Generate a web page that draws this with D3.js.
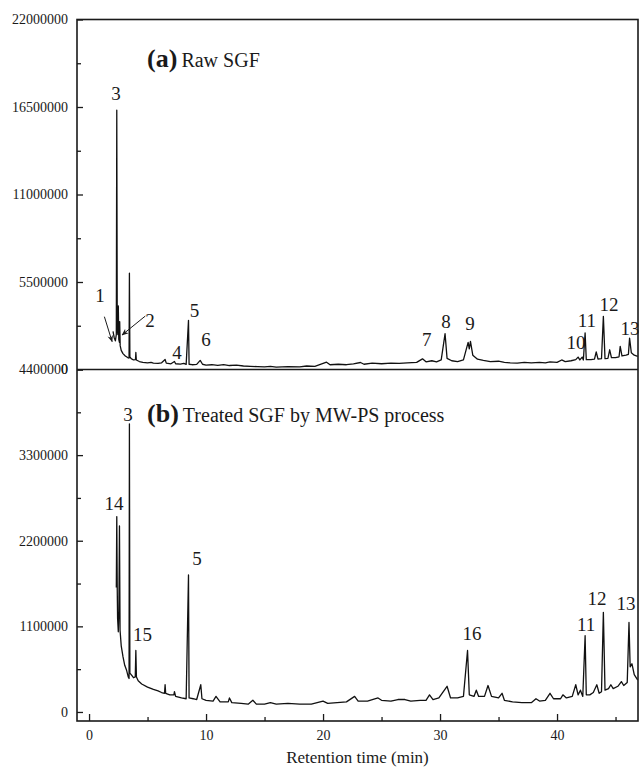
<!DOCTYPE html>
<html>
<head>
<meta charset="utf-8">
<script src="https://cdn.jsdelivr.net/npm/d3@7"></script>
<style>
  body { margin: 0; background: #fff; }
  svg { display: block; }
  text { font-family: "Liberation Serif", "Times New Roman", serif; fill: #1a1a1a; }
</style>
</head>
<body>
<svg id="chart" width="639" height="770"></svg>
<script>
// retention time (min), abundance (millions)
const rawSGF = [
  [2.05, 2.4], [2.15, 2.0], [2.25, 1.8], [2.33, 2.2], [2.37, 16.3], [2.41, 2.6], [2.46, 2.2],
  [2.5, 4.0], [2.54, 1.9], [2.6, 1.7], [2.62, 3.0], [2.66, 1.5], [2.75, 1.2], [2.9, 1.0],
  [3.1, 0.85], [3.3, 0.75], [3.42, 0.72], [3.45, 6.05], [3.49, 0.8], [3.6, 0.68], [3.8, 0.6],
  [3.97, 0.62], [4.0, 1.07], [4.04, 0.6], [4.3, 0.5], [4.6, 0.45], [5.0, 0.42], [5.3, 0.45],
  [5.5, 0.4], [5.9, 0.38], [6.2, 0.42], [6.5, 0.63], [6.6, 0.4], [7.0, 0.36], [7.3, 0.5],
  [7.4, 0.36], [7.8, 0.34], [8.1, 0.38], [8.3, 0.32], [8.5, 3.09], [8.55, 0.33], [8.8, 0.3],
  [9.2, 0.32], [9.5, 0.57], [9.7, 0.33], [10.0, 0.28], [10.5, 0.3], [11.0, 0.26], [11.5, 0.3],
  [12.0, 0.25], [12.6, 0.27], [13.2, 0.22], [13.8, 0.2], [14.4, 0.18], [15.0, 0.16], [15.5, 0.2],
  [16.0, 0.15], [17.0, 0.18], [18.0, 0.16], [18.6, 0.22], [19.3, 0.2], [20.3, 0.46], [20.6, 0.3],
  [21.3, 0.33], [22.0, 0.3], [22.6, 0.36], [23.2, 0.44], [23.5, 0.33], [24.2, 0.4], [25.0, 0.36],
  [25.8, 0.4], [26.5, 0.38], [27.2, 0.42], [28.0, 0.45], [28.5, 0.67], [28.8, 0.48], [29.3, 0.55],
  [29.7, 0.48], [30.1, 0.6], [30.43, 2.25], [30.6, 0.7], [31.0, 0.55], [31.5, 0.5], [32.0, 0.6],
  [32.4, 1.7], [32.5, 1.3], [32.6, 1.77], [32.8, 0.9], [33.2, 0.65], [33.7, 0.57], [34.3, 0.5],
  [35.0, 0.52], [35.5, 0.45], [36.0, 0.42], [36.6, 0.4], [37.2, 0.45], [37.8, 0.42], [38.5, 0.45],
  [39.0, 0.42], [39.4, 0.48], [40.0, 0.45], [40.4, 0.6], [40.7, 0.5], [41.2, 0.55], [41.6, 0.62],
  [41.8, 0.78], [41.95, 0.6], [42.15, 0.78], [42.25, 0.6], [42.4, 2.3], [42.5, 0.62], [42.9, 0.62],
  [43.2, 0.65], [43.35, 1.1], [43.5, 0.66], [43.8, 0.68], [43.96, 3.34], [44.1, 0.68], [44.35, 0.7],
  [44.5, 1.24], [44.65, 0.75], [45.0, 0.75], [45.3, 0.8], [45.4, 1.45], [45.55, 0.85], [45.9, 0.9],
  [46.1, 0.95], [46.2, 1.97], [46.35, 1.05], [46.6, 0.9], [46.9, 0.82]
];

const treatedSGF = [
  [2.33, 1.6], [2.37, 2.51], [2.41, 1.57], [2.44, 1.2], [2.5, 1.03], [2.55, 1.3], [2.6, 2.39],
  [2.65, 1.05], [2.75, 0.85], [2.9, 0.71], [3.05, 0.6], [3.2, 0.54], [3.35, 0.45], [3.42, 0.43],
  [3.45, 3.7], [3.49, 0.5], [3.6, 0.48], [3.8, 0.44], [3.95, 0.45], [4.0, 0.79], [4.05, 0.45],
  [4.2, 0.4], [4.5, 0.36], [5.0, 0.32], [5.5, 0.29], [5.9, 0.27], [6.2, 0.25], [6.45, 0.24],
  [6.5, 0.35], [6.55, 0.24], [6.9, 0.22], [7.25, 0.22], [7.3, 0.26], [7.4, 0.2], [7.9, 0.18],
  [8.3, 0.17], [8.5, 1.76], [8.55, 0.18], [8.9, 0.17], [9.2, 0.16], [9.55, 0.35], [9.65, 0.17],
  [10.0, 0.15], [10.6, 0.14], [10.85, 0.2], [11.2, 0.13], [11.9, 0.13], [12.0, 0.18], [12.2, 0.12],
  [13.0, 0.11], [13.6, 0.1], [14.0, 0.15], [14.3, 0.1], [15.0, 0.1], [15.5, 0.12], [16.0, 0.1],
  [17.0, 0.11], [18.0, 0.1], [19.0, 0.1], [20.0, 0.14], [20.4, 0.11], [21.2, 0.12], [22.0, 0.13],
  [22.7, 0.2], [23.0, 0.14], [23.8, 0.14], [24.7, 0.18], [25.0, 0.15], [25.8, 0.14], [26.4, 0.16],
  [27.0, 0.16], [27.5, 0.14], [28.3, 0.15], [28.8, 0.15], [29.1, 0.22], [29.4, 0.16], [29.9, 0.18],
  [30.6, 0.33], [30.9, 0.18], [31.5, 0.18], [32.0, 0.2], [32.35, 0.79], [32.5, 0.22], [32.9, 0.2],
  [33.1, 0.28], [33.3, 0.2], [33.8, 0.2], [34.1, 0.34], [34.4, 0.2], [35.0, 0.18], [35.3, 0.24],
  [35.5, 0.15], [36.2, 0.13], [37.0, 0.12], [37.8, 0.12], [38.2, 0.17], [38.5, 0.14], [39.0, 0.15],
  [39.4, 0.24], [39.7, 0.17], [40.3, 0.17], [40.5, 0.22], [40.8, 0.18], [41.3, 0.2], [41.6, 0.35],
  [41.8, 0.22], [42.0, 0.28], [42.2, 0.2], [42.4, 0.98], [42.5, 0.22], [42.8, 0.22], [43.1, 0.25],
  [43.4, 0.35], [43.6, 0.24], [43.8, 0.26], [43.96, 1.28], [44.1, 0.28], [44.4, 0.3], [44.6, 0.35],
  [44.8, 0.3], [45.2, 0.33], [45.5, 0.39], [45.7, 0.34], [46.0, 0.38], [46.15, 1.15], [46.25, 0.58],
  [46.4, 0.62], [46.6, 0.48], [46.9, 0.41]
];

const timeTicks = [0, 10, 20, 30, 40];
const timeMinor = [5, 15, 25, 35, 45];
const rawTicks = [0, 5500000, 11000000, 16500000, 22000000];
const rawMinor = [2750000, 8250000, 13750000, 19250000];
const treatedTicks = [0, 1100000, 2200000, 3300000, 4400000];
const treatedMinor = [550000, 1650000, 2750000, 3850000];

// peak numbers: [label, time, abundance (millions)]
const rawLabels = [
  ["3", 2.31, 16.94], ["1", 0.94, 4.24], ["2", 5.21, 2.67], ["4", 7.52, 0.66],
  ["5", 9.02, 3.3], ["6", 10.0, 1.48], ["7", 28.86, 1.48], ["8", 30.51, 2.61],
  ["9", 32.56, 2.48], ["10", 41.62, 1.29], ["11", 42.56, 2.67], ["12", 44.44, 3.68],
  ["13", 46.24, 2.17]
];
const treatedLabels = [
  ["3", 3.33, 3.74], ["14", 2.14, 2.6], ["15", 4.57, 0.91], ["5", 9.23, 1.89],
  ["16", 32.74, 0.92], ["11", 42.48, 1.04], ["12", 43.42, 1.37], ["13", 45.9, 1.31]
];
// arrows: [fromTime, fromValue, toTime, toValue]
const rawArrows = [
  [1.31, 3.32, 1.97, 1.75],
  [4.81, 3.36, 2.82, 2.17]
];

const panelTitles = [
  { tag: "(a)", text: "Raw SGF", t: 4.96, v: 19.01, panel: "raw" },
  { tag: "(b)", text: "Treated SGF by MW-PS process", t: 4.96, v: 3.73, panel: "treated" }
];

const unit = 1e6;
const plot = { left: 77, right: 638, top: 19.5, split: 369.5, bottom: 721 };

const svg = d3.select("#chart");

const xScale = d3.scaleLinear().domain([-1.03, 46.92]).range([plot.left, plot.right]);
const yRaw = d3.scaleLinear().domain([0, 22000000]).range([plot.split, plot.top]);
const yTreated = d3.scaleLinear().domain([-116000, 4400000]).range([plot.bottom, plot.split]);

const defs = svg.append("defs");
defs.append("clipPath").attr("id", "clipRaw")
  .append("rect").attr("x", plot.left).attr("y", plot.top)
  .attr("width", plot.right - plot.left).attr("height", plot.split - plot.top);
defs.append("clipPath").attr("id", "clipTreated")
  .append("rect").attr("x", plot.left).attr("y", plot.split)
  .attr("width", plot.right - plot.left).attr("height", plot.bottom - plot.split);
defs.append("marker")
  .attr("id", "arrowHead")
  .attr("viewBox", "0 0 10 10")
  .attr("refX", 9).attr("refY", 5)
  .attr("markerWidth", 7).attr("markerHeight", 7)
  .attr("orient", "auto")
  .append("path")
  .attr("d", "M0,1 L10,5 L0,9 L3,5 Z")
  .attr("fill", "#1a1a1a");

const fmt = d3.format("d");

function yAxes(scale, ticks, minor) {
  const g = svg.append("g").attr("transform", `translate(${plot.left},0)`);
  g.append("g")
    .call(d3.axisLeft(scale).tickValues(minor).tickSize(-4).tickFormat(""))
    .call((a) => a.select(".domain").remove());
  g.append("g")
    .call(d3.axisLeft(scale).tickValues(ticks).tickSize(-6).tickPadding(9).tickFormat(fmt))
    .call((a) => a.select(".domain").remove());
  g.selectAll("text").attr("font-size", 14).attr("fill", "#1a1a1a");
  g.selectAll("line").attr("stroke", "#1a1a1a").attr("stroke-width", 1.3);
}

yAxes(yRaw, rawTicks, rawMinor);
yAxes(yTreated, treatedTicks, treatedMinor);

const gx = svg.append("g").attr("transform", `translate(0,${plot.bottom})`);
gx.append("g")
  .call(d3.axisBottom(xScale).tickValues(timeMinor).tickSize(-4).tickFormat(""))
  .call((a) => a.select(".domain").remove());
gx.append("g")
  .call(d3.axisBottom(xScale).tickValues(timeTicks).tickSize(-7).tickPadding(9).tickFormat(fmt))
  .call((a) => a.select(".domain").remove());
gx.selectAll("text").attr("font-size", 14).attr("fill", "#1a1a1a");
gx.selectAll("line").attr("stroke", "#1a1a1a").attr("stroke-width", 1.3);
svg.selectAll("g").attr("font-family", null);

svg.append("text")
  .attr("x", (plot.left + plot.right) / 2)
  .attr("y", 763)
  .attr("text-anchor", "middle")
  .attr("font-size", 17)
  .text("Retention time (min)");

// traces
const lineRaw = d3.line().x((d) => xScale(d[0])).y((d) => yRaw(d[1] * unit));
const lineTreated = d3.line().x((d) => xScale(d[0])).y((d) => yTreated(d[1] * unit));

svg.append("path")
  .datum(rawSGF)
  .attr("clip-path", "url(#clipRaw)")
  .attr("fill", "none")
  .attr("stroke", "#111")
  .attr("stroke-width", 1.3)
  .attr("stroke-linejoin", "round")
  .attr("d", lineRaw);

svg.append("path")
  .datum(treatedSGF)
  .attr("clip-path", "url(#clipTreated)")
  .attr("fill", "none")
  .attr("stroke", "#111")
  .attr("stroke-width", 1.3)
  .attr("stroke-linejoin", "round")
  .attr("d", lineTreated);

// frame
svg.append("rect")
  .attr("x", plot.left).attr("y", plot.top)
  .attr("width", plot.right - plot.left).attr("height", plot.bottom - plot.top)
  .attr("fill", "none").attr("stroke", "#1a1a1a").attr("stroke-width", 1.6);
svg.append("line")
  .attr("x1", plot.left).attr("x2", plot.right)
  .attr("y1", plot.split).attr("y2", plot.split)
  .attr("stroke", "#1a1a1a").attr("stroke-width", 1.6);

// peak labels
function peakLabels(labels, scale) {
  svg.append("g")
    .selectAll("text")
    .data(labels)
    .join("text")
    .attr("x", (d) => xScale(d[1]))
    .attr("y", (d) => scale(d[2] * unit))
    .attr("text-anchor", "middle")
    .attr("font-size", 19)
    .text((d) => d[0]);
}
peakLabels(rawLabels, yRaw);
peakLabels(treatedLabels, yTreated);

svg.append("g")
  .selectAll("line")
  .data(rawArrows)
  .join("line")
  .attr("x1", (d) => xScale(d[0]))
  .attr("y1", (d) => yRaw(d[1] * unit))
  .attr("x2", (d) => xScale(d[2]))
  .attr("y2", (d) => yRaw(d[3] * unit))
  .attr("stroke", "#1a1a1a")
  .attr("stroke-width", 1)
  .attr("marker-end", "url(#arrowHead)");

// panel titles
panelTitles.forEach((p) => {
  const scale = p.panel === "raw" ? yRaw : yTreated;
  const t = svg.append("text")
    .attr("x", xScale(p.t))
    .attr("y", scale(p.v * unit));
  t.append("tspan").attr("font-size", 26).attr("font-weight", "bold").text(p.tag);
  t.append("tspan").attr("font-size", 20).attr("dx", 4).text(p.text);
});
</script>
</body>
</html>
